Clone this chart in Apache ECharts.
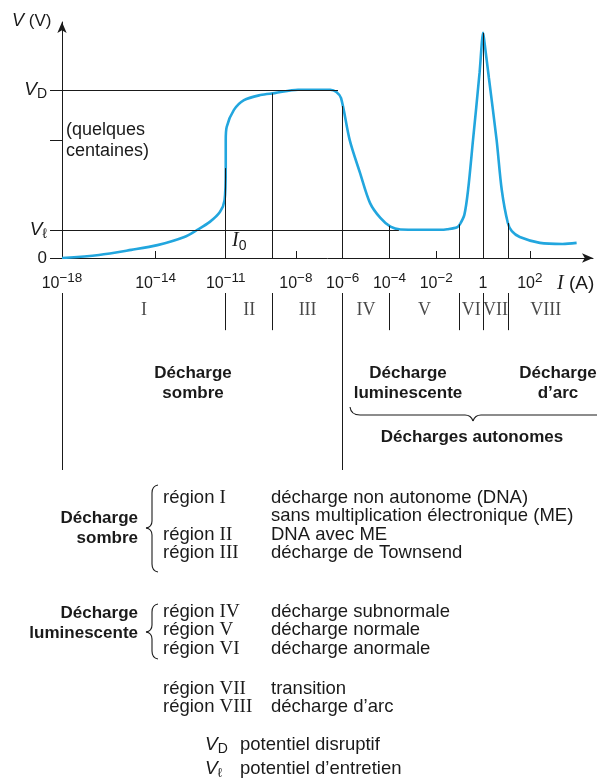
<!DOCTYPE html>
<html>
<head>
<meta charset="utf-8">
<script src="https://cdn.jsdelivr.net/npm/echarts@6/dist/echarts.min.js"></script>
<style>
  html, body { margin: 0; padding: 0; background: #ffffff; }
  #chart { width: 597px; height: 782px; }
</style>
</head>
<body>
<div id="chart"></div>
<script>
// Characteristic V(I) of a gas discharge, current on a log scale (log10 of I in A)
const curveLogI = [-18, -16.42, -15.04, -13.92, -12.77, -12.23, -11.68, -11.25, -11.05, -11.0, -11.0, -10.96,
  -10.65, -10.22, -9.52, -8.91, -7.91, -6.53, -6.27, -6.07, -5.70, -5.26, -4.83, -4.39, -3.96, -3.53,
  -2.68, -1.83, -1.53, -1.11, -0.98, -0.80, -0.64, -0.43, -0.15, -0.05, 0, 0.06, 0.25, 0.58, 0.80,
  1.06, 1.23, 1.57, 2.43, 3.40, 4.0];
// Voltage in volts (V_D = 600 V, V_l = 100 V)
const curveV = [0, 11, 29, 46, 75, 100, 129, 164, 207, 321, 421, 468,
  529, 564, 582, 589, 601, 601, 593, 571, 421, 304, 196, 143, 112, 102,
  101, 101, 103, 110, 122, 154, 243, 421, 661, 771, 804, 771, 643, 421, 243,
  125, 96, 75, 54, 50, 54];

const V_D = 600;            // disruptive potential
const V_L = 100;            // sustaining potential
const V_HUNDREDS = 420;     // "quelques centaines" mark
const vdLineEnd = -6.2;     // V_D guide ends where the plateau drops
const vlLineEnd = -3.6;     // V_l guide ends on the glow plateau

// tick positions on the current axis (exponents of 10)
const currentTicks = [-18, -14, -11, -8, -6, -4, -2, 0, 2];

// region boundaries (log10 I) and names
const regionBounds = [-18, -11, -9, -6, -4, -1, 0, 1.06, 4.3];
const regionNames = ['I', 'II', 'III', 'IV', 'V', 'VI', 'VII', 'VIII'];
// boundaries extended down to the discharge-type captions
const majorBounds = [-18, -6];

const SANS = '"Liberation Sans", Arial, sans-serif';
const SERIF = '"Liberation Serif", "Times New Roman", serif';
const INK = '#1a1a1a';
const BLUE = '#22a6de';
const BODY = 18.5;

function interpV(L) {
  for (let i = 0; i < curveLogI.length - 1; i++) {
    const a = curveLogI[i], b = curveLogI[i + 1];
    if (b > a && L >= a && L <= b) {
      return curveV[i] + (curveV[i + 1] - curveV[i]) * (L - a) / (b - a);
    }
  }
  return 0;
}

const curveData = curveLogI.map((x, i) => [x, curveV[i]]);
const innerBounds = regionBounds.slice(1, -1);

// guides inside the plot
const guideLines = [
  [{ coord: [-18, V_D] }, { coord: [vdLineEnd, V_D] }],
  [{ coord: [-18, V_L] }, { coord: [vlLineEnd, V_L] }]
].concat(innerBounds.map(b => [{ coord: [b, 0] }, { coord: [b, interpV(b)] }]));

// separators under the axis
const sepLines = innerBounds.filter(b => majorBounds.indexOf(b) < 0)
  .map(b => [{ coord: [b, 0] }, { coord: [b, 0.21] }])
  .concat(majorBounds.map(b => [{ coord: [b, 0] }, { coord: [b, 1] }]));

const regionLabels = regionNames.map((n, i) => ({
  value: [(regionBounds[i] + regionBounds[i + 1]) / 2, 0.1],
  name: n
}));

function sup(v) { return v === 0 ? '{b|1}' : '{b|10}{s|' + (v < 0 ? '\u2212' + (-v) : v) + '}'; }

const chart = echarts.init(document.getElementById('chart'), null, { renderer: 'canvas' });

function txt(x, y, text, o) {
  o = o || {};
  return {
    type: 'text', x: x, y: y, silent: true,
    style: Object.assign({
      text: text, fill: INK, fontFamily: SANS, fontSize: 17,
      align: 'left', verticalAlign: 'middle'
    }, o)
  };
}

const rowRich = {
  r: { fontFamily: SANS, fontSize: BODY, fill: INK },
  n: { fontFamily: SERIF, fontSize: 19, fill: INK }
};

function regionRow(y, num, desc) {
  const els = [];
  if (num) els.push(txt(163, y, '{r|r\u00e9gion }{n|' + num + '}', { rich: rowRich }));
  els.push(txt(271, y, desc, { fontSize: BODY }));
  return els;
}

const braceStyle = { stroke: INK, lineWidth: 1.1, fill: null };
function seg(x1, y1, x2, y2) {
  return { type: 'line', silent: true, shape: { x1, y1, x2, y2 }, style: braceStyle };
}
function quad(x1, y1, cx, cy, x2, y2) {
  return { type: 'bezierCurve', silent: true,
    shape: { x1, y1, x2, y2, cpx1: cx, cpy1: cy }, style: braceStyle };
}
// vertical "{" brace: x = stem, tip at (x - 6, yMid)
function vBrace(x, yTop, yMid, yBot) {
  return [
    quad(x + 6, yTop, x, yTop + 1, x, yTop + 8),
    seg(x, yTop + 8, x, yMid - 7),
    quad(x, yMid - 7, x, yMid - 1, x - 6, yMid),
    quad(x - 6, yMid, x, yMid + 1, x, yMid + 7),
    seg(x, yMid + 7, x, yBot - 8),
    quad(x, yBot - 8, x, yBot - 1, x + 6, yBot)
  ];
}
// horizontal brace opening upward, tip pointing down at (xMid, y + 6)
function hBrace(xL, xMid, xR, y) {
  return [
    quad(xL, y - 8, xL + 1, y, xL + 10, y),
    seg(xL + 10, y, xMid - 8, y),
    quad(xMid - 8, y, xMid - 2, y, xMid, y + 6),
    quad(xMid, y + 6, xMid + 2, y, xMid + 8, y),
    seg(xMid + 8, y, xR, y)
  ];
}

const graphics = [
  txt(12, 21, '{i|V}{n| (V)}', { rich: {
    i: { fontFamily: SANS, fontStyle: 'italic', fontSize: 18, fill: INK },
    n: { fontFamily: SANS, fontSize: 17, fill: INK } } }),
  txt(557, 284, '{i|I}{n| (A)}', { rich: {
    i: { fontFamily: SERIF, fontStyle: 'italic', fontSize: 20, fill: INK },
    n: { fontFamily: SANS, fontSize: 19, fill: INK } } }),
  txt(66, 130, '(quelques', { fontSize: 18 }),
  txt(66, 151, 'centaines)', { fontSize: 18 }),
  txt(232, 241, '{i|I}{s|0}', { rich: {
    i: { fontFamily: SERIF, fontStyle: 'italic', fontSize: 20, lineHeight: 24, fill: INK },
    s: { fontFamily: SANS, fontSize: 14, lineHeight: 14, verticalAlign: 'bottom', fill: INK } } }),

  txt(193, 383, 'D\u00e9charge\nsombre', { fontWeight: 'bold', align: 'center', lineHeight: 20 }),
  txt(408, 383, 'D\u00e9charge\nluminescente', { fontWeight: 'bold', align: 'center', lineHeight: 20 }),
  txt(558, 383, 'D\u00e9charge\nd\u2019arc', { fontWeight: 'bold', align: 'center', lineHeight: 20 }),
  txt(472, 437, 'D\u00e9charges autonomes', { fontWeight: 'bold', align: 'center' }),

  txt(138, 528, 'D\u00e9charge\nsombre', { fontWeight: 'bold', align: 'right', lineHeight: 20 }),
  txt(138, 623, 'D\u00e9charge\nluminescente', { fontWeight: 'bold', align: 'right', lineHeight: 20 }),

  txt(205, 745, '{v|V}{d|D}', { rich: {
    v: { fontFamily: SANS, fontStyle: 'italic', fontSize: 19, lineHeight: 22, fill: INK },
    d: { fontFamily: SANS, fontSize: 14, lineHeight: 14, verticalAlign: 'bottom', fill: INK } } }),
  txt(240, 745, 'potentiel disruptif', { fontSize: BODY }),
  txt(205, 769, '{v|V}{d|\u2113}', { rich: {
    v: { fontFamily: SANS, fontStyle: 'italic', fontSize: 19, lineHeight: 22, fill: INK },
    d: { fontFamily: SANS, fontSize: 13, lineHeight: 13, verticalAlign: 'bottom', fill: INK } } }),
  txt(240, 769, 'potentiel d\u2019entretien', { fontSize: BODY })
].concat(
  hBrace(350, 473, 600, 415),
  vBrace(152, 485, 528, 572),
  vBrace(152, 604, 632, 659),
  regionRow(498, 'I', 'd\u00e9charge non autonome (DNA)'),
  regionRow(516, null, 'sans multiplication \u00e9lectronique (ME)'),
  regionRow(535, 'II', 'DNA avec ME'),
  regionRow(553, 'III', 'd\u00e9charge de Townsend'),
  regionRow(612, 'IV', 'd\u00e9charge subnormale'),
  regionRow(630, 'V', 'd\u00e9charge normale'),
  regionRow(649, 'VI', 'd\u00e9charge anormale'),
  regionRow(689, 'VII', 'transition'),
  regionRow(707, 'VIII', 'd\u00e9charge d\u2019arc')
);

const option = {
  animation: false,
  backgroundColor: '#ffffff',
  grid: [
    { left: 62, right: 4, top: 22, height: 236 },
    { left: 62, right: 4, top: 293, height: 177 }
  ],
  xAxis: [
    {
      gridIndex: 0, type: 'value', min: -18, max: 4.7,
      axisLine: { show: true, onZero: false, symbol: ['none', 'arrow'], symbolSize: [7, 11],
        lineStyle: { color: INK, width: 1 } },
      axisTick: { show: true, inside: true, length: 7, customValues: currentTicks,
        lineStyle: { color: INK, width: 1 } },
      axisLabel: {
        customValues: currentTicks, margin: 13, color: INK,
        formatter: v => sup(v),
        rich: {
          b: { fontFamily: SANS, fontSize: 16, lineHeight: 26, color: INK },
          s: { fontFamily: SANS, fontSize: 13.5, lineHeight: 13, verticalAlign: 'top', color: INK }
        }
      },
      splitLine: { show: false }
    },
    { gridIndex: 1, type: 'value', min: -18, max: 4.7, show: false }
  ],
  yAxis: [
    {
      gridIndex: 0, type: 'value', min: 0, max: 843,
      axisLine: { show: true, onZero: false, symbol: ['none', 'arrow'], symbolSize: [7, 11],
        lineStyle: { color: INK, width: 1 } },
      axisTick: { show: true, length: 12, customValues: [0, V_L, V_HUNDREDS, V_D],
        lineStyle: { color: INK, width: 1 } },
      axisLabel: {
        customValues: [0, V_L, V_D], margin: 15, color: INK,
        formatter: v => v === V_D ? '{v|V}{d|D}' : (v === V_L ? '{v|V}{d|\u2113}' : '{n|0}'),
        rich: {
          v: { fontFamily: SANS, fontStyle: 'italic', fontSize: 19, lineHeight: 22, color: INK },
          d: { fontFamily: SANS, fontSize: 14, lineHeight: 14, verticalAlign: 'bottom', color: INK },
          n: { fontFamily: SANS, fontSize: 17, color: INK }
        }
      },
      splitLine: { show: false }
    },
    { gridIndex: 1, type: 'value', min: 0, max: 1, inverse: true, show: false }
  ],
  series: [
    {
      name: 'guides', type: 'scatter', xAxisIndex: 0, yAxisIndex: 0, z: 1,
      data: [[-18, 0]], symbolSize: 0, silent: true,
      markLine: {
        silent: true, symbol: ['none', 'none'], label: { show: false },
        lineStyle: { color: INK, width: 1, type: 'solid' },
        emphasis: { disabled: true },
        data: guideLines
      }
    },
    {
      name: 'V(I)', type: 'line', xAxisIndex: 0, yAxisIndex: 0, z: 3,
      data: curveData, showSymbol: false, smooth: 0.3,
      lineStyle: { color: BLUE, width: 2.6 }
    },
    {
      name: 'régions', type: 'scatter', xAxisIndex: 1, yAxisIndex: 1,
      data: regionLabels, symbolSize: 0, silent: true,
      label: { show: true, position: 'inside', formatter: p => p.name,
        fontFamily: SERIF, fontSize: 18, color: INK },
      markLine: {
        silent: true, symbol: ['none', 'none'], label: { show: false },
        lineStyle: { color: INK, width: 1, type: 'solid' },
        data: sepLines
      }
    }
  ],
  graphic: graphics
};

chart.setOption(option);
</script>
</body>
</html>
